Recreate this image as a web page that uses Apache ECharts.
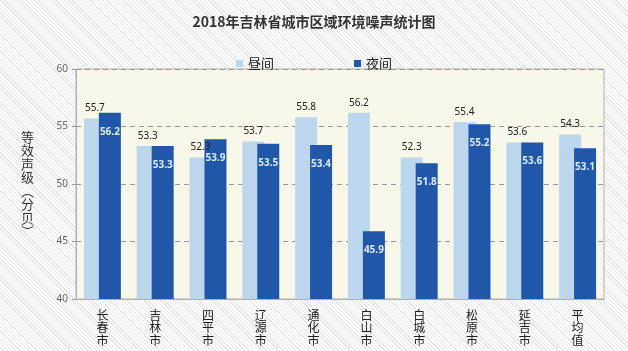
<!DOCTYPE html>
<html><head><meta charset="utf-8">
<script src="https://cdn.jsdelivr.net/npm/echarts@6/dist/echarts.min.js"></script>
<style>
html,body{margin:0;padding:0;}
body{width:628px;height:351px;background:#fff repeating-linear-gradient(45deg,#ffffff 0px,#ffffff 2px,#e4e4e4 2px,#e4e4e4 3px);}
#c{width:628px;height:351px;}
</style></head>
<body><div id="c"></div>
<script>
const categories = ['长春市','吉林市','四平市','辽源市','通化市','白山市','白城市','松原市','延吉市','平均值'];
const dayValues = [55.7,53.3,52.3,53.7,55.8,56.2,52.3,55.4,53.6,54.3];
const nightValues = [56.2,53.3,53.9,53.5,53.4,45.9,51.8,55.2,53.6,53.1];
const yTicks = [40,45,50,55,60];
const seriesNames = ['昼间','夜间'];

const chart = echarts.init(document.getElementById('c'), null, {renderer:'canvas'});
chart.setOption({
  backgroundColor:'transparent',
  animation:false,
  title:{text:'2018年吉林省城市区域环境噪声统计图',left:'center',top:10,
    textStyle:{fontFamily:'Noto Sans CJK SC',fontSize:14,fontWeight:'bold',color:'#333'}},
  legend:{data:seriesNames,top:52,left:'center',itemWidth:7,itemHeight:7,itemGap:80,icon:'rect',
    textStyle:{fontFamily:'Noto Sans CJK SC',fontSize:13,color:'#222'}},
  grid:{left:76,right:24,top:69,bottom:52,show:true,backgroundColor:'#f8f8ea',borderColor:'#b0b0b0',borderWidth:1},
  xAxis:{type:'category',data:categories,
    axisLine:{lineStyle:{color:'#b0b0b0'}},axisTick:{show:false},
    axisLabel:{interval:0,margin:10,fontFamily:'Noto Sans CJK SC',fontSize:12,color:'#222',lineHeight:12.5,
      formatter:v=>v.split('').join('\n')}},
  yAxis:{type:'value',min:yTicks[0],max:yTicks[yTicks.length-1],interval:5,
    name:'等\n效\n声\n级\n︵\n分\n贝\n︶',nameLocation:'middle',nameRotate:0,nameGap:42,
    nameTextStyle:{fontFamily:'Noto Sans CJK SC',fontSize:13,color:'#333',lineHeight:13.5},
    axisLine:{show:true,lineStyle:{color:'#b0b0b0'}},axisTick:{show:true,length:4,lineStyle:{color:'#999'}},
    axisLabel:{fontFamily:'Noto Sans',fontSize:10,color:'#666',margin:8},
    splitLine:{lineStyle:{type:[5,4],color:'#999'}}},
  series:[
    {name:seriesNames[0],type:'bar',data:dayValues,barWidth:22,barGap:'-32%',
      itemStyle:{color:'#bcd6ee'},
      label:{show:true,position:'top',distance:5,fontFamily:'Noto Sans',fontSize:10,color:'#222'}},
    {name:seriesNames[1],type:'bar',data:nightValues,barWidth:22,
      itemStyle:{color:'#2157a8'},
      label:{show:true,position:'insideTop',distance:14,fontFamily:'Noto Sans',fontSize:10,fontWeight:'bold',color:'#dcecff'}}
  ]
});
</script></body></html>
